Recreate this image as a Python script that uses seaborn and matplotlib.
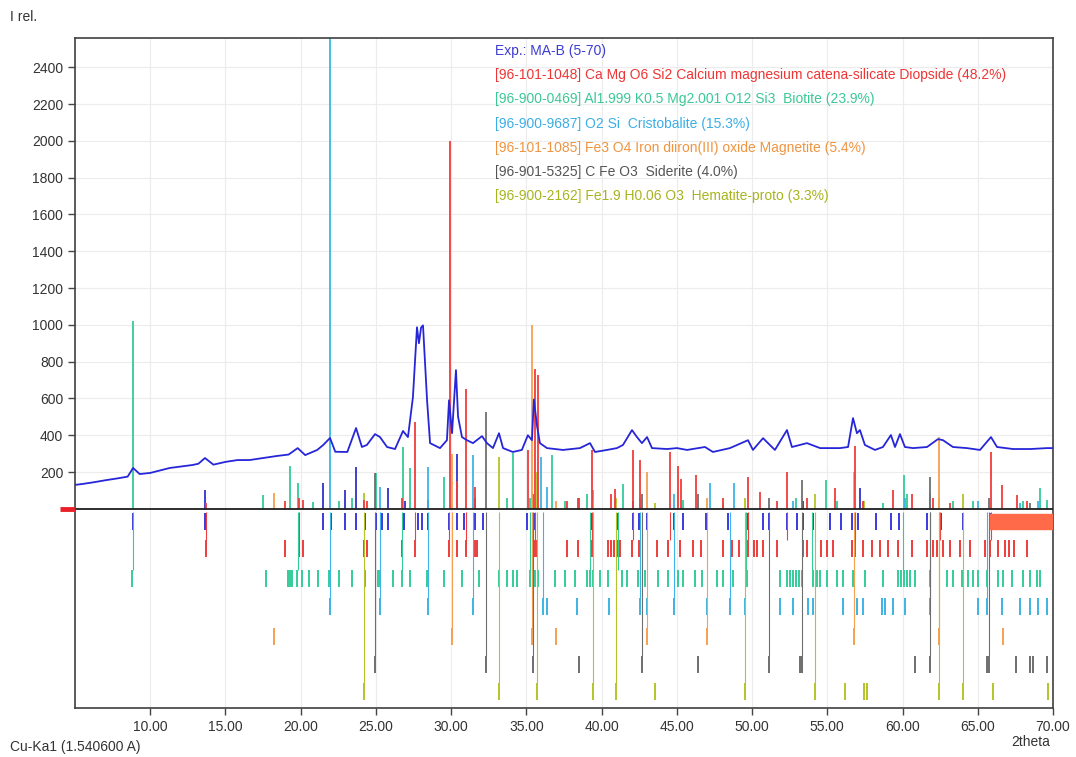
import matplotlib
matplotlib.use("Agg")
import matplotlib.pyplot as plt
from matplotlib.patches import Rectangle
import pandas as pd
import seaborn as sns

exp_points = [
    (5.0, 130), (5.5, 135), (6.3, 145), (7.0, 155), (7.8, 165), (8.5, 175), (8.86, 222), (9.3, 189),
    (10.0, 195), (11.3, 222), (12.8, 238), (13.2, 245), (13.64, 276), (14.2, 240), (15.0, 255),
    (15.8, 265), (16.6, 265), (17.5, 276), (18.4, 287), (19.2, 295), (19.8, 330), (20.3, 292),
    (21.1, 320), (21.5, 347), (21.95, 385), (22.3, 310), (23.1, 309), (23.68, 439), (24.07, 336),
    (24.4, 347), (24.94, 406), (25.27, 390), (25.74, 336), (26.27, 325), (26.8, 423), (27.13, 390),
    (27.46, 607), (27.73, 987), (27.86, 900), (28.0, 985), (28.13, 997), (28.4, 590), (28.6, 357),
    (29.26, 330), (29.72, 373), (29.86, 590), (30.06, 411), (30.32, 754), (30.46, 500), (30.72, 390),
    (31.05, 373), (31.45, 357), (32.05, 395), (32.38, 357), (32.78, 330), (33.18, 411), (33.45, 330),
    (34.1, 309), (34.7, 320), (35.1, 400), (35.37, 373), (35.5, 595), (35.7, 455), (35.9, 357),
    (36.37, 330), (37.43, 320), (38.56, 330), (39.23, 357), (39.56, 309), (40.36, 320), (41.02, 330),
    (41.42, 347), (42.02, 428), (42.35, 390), (42.68, 357), (43.02, 390), (43.35, 330), (44.35, 325),
    (45.01, 330), (45.68, 320), (46.87, 336), (47.4, 309), (48.53, 330), (49.73, 373), (50.06, 320),
    (50.73, 384), (51.06, 357), (51.52, 320), (52.32, 428), (52.65, 336), (53.65, 357), (54.52, 330),
    (55.85, 330), (56.38, 336), (56.71, 493), (56.97, 411), (57.17, 428), (57.5, 347), (58.17, 320),
    (58.7, 336), (59.23, 401), (59.5, 336), (59.83, 406), (60.16, 336), (60.7, 330), (61.63, 336),
    (62.36, 379), (62.69, 373), (63.35, 336), (64.28, 330), (65.15, 320), (65.88, 390), (66.28, 336),
    (67.34, 325), (68.5, 325), (69.6, 330), (70.0, 330),
]

# reference sticks above the baseline (2theta, height)
exp_sticks = [(13.64, 102), (21.5, 140), (22.97, 102), (23.68, 228), (25.8, 113), (26.9, 40),
              (28.48, 50), (30.36, 300), (31.6, 60), (42.1, 40), (53.4, 40), (57.2, 113)]
diopside_sticks = [(13.68, 30), (18.96, 40), (19.9, 60), (20.13, 50), (24.21, 50), (24.39, 40),
                   (26.71, 60), (27.6, 470), (29.9, 2000), (30.41, 150), (30.99, 650), (31.58, 120),
                   (35.13, 320), (35.57, 760), (35.75, 730), (37.68, 40), (38.45, 60), (39.34, 320),
                   (40.6, 80), (40.9, 110), (42.1, 320), (42.55, 265), (44.55, 310), (45.1, 230),
                   (45.3, 160), (46.3, 185), (48.05, 60), (49.73, 175), (50.5, 90), (51.63, 40),
                   (52.35, 200), (53.63, 60), (55.5, 115), (56.85, 340), (57.4, 40), (59.4, 100),
                   (60.61, 80), (62.05, 60), (63.15, 30), (65.9, 310), (66.6, 130), (67.6, 75),
                   (68.25, 40)]
biotite_sticks = [(8.85, 1020), (17.5, 75), (19.3, 230), (19.8, 140), (20.8, 37), (22.57, 40),
                  (23.39, 60), (25.0, 195), (26.78, 336), (27.27, 222), (29.5, 173), (33.69, 60),
                  (34.1, 303), (35.24, 60), (36.7, 293), (37.57, 40), (39.0, 80), (39.45, 100),
                  (41.4, 135), (45.43, 50), (48.09, 30), (52.9, 60), (54.9, 157), (55.62, 40),
                  (58.72, 30), (60.1, 184), (60.3, 80), (61.82, 40), (63.37, 40), (64.7, 40),
                  (68.03, 40), (69.15, 113), (69.6, 50)]
cristobalite_sticks = [(21.95, 2600), (25.3, 120), (28.44, 228), (31.43, 293), (35.95, 282),
                       (36.39, 120), (42.55, 60), (44.81, 80), (47.2, 140), (48.8, 140), (52.74, 40),
                       (60.16, 60), (61.82, 80), (65.04, 40), (67.81, 30), (69.02, 40)]
magnetite_sticks = [(18.23, 84), (30.03, 300), (35.35, 1000), (37.0, 40), (43.0, 200), (46.98, 60),
                    (56.77, 200), (62.44, 390)]
siderite_sticks = [(24.94, 195), (32.31, 526), (35.46, 80), (38.52, 60), (42.66, 80), (46.38, 80),
                   (51.15, 60), (53.3, 157), (61.82, 173), (65.77, 60), (68.5, 30)]
hematite_sticks = [(24.2, 86), (33.18, 282), (35.73, 200), (39.41, 40), (40.96, 60), (43.55, 30),
                   (49.53, 60), (54.18, 80), (57.44, 40), (62.44, 60), (64.0, 80)]

# peak marker rows under the baseline
exp_ticks = [8.88, 13.64, 19.89, 21.5, 21.99, 22.94, 23.65, 24.27, 25.0, 25.38, 25.82, 26.89, 27.82,
             28.04, 28.48, 29.88, 30.36, 30.85, 31.58, 32.14, 35.02, 35.5, 39.34, 41.07, 42.11,
             42.51, 43.0, 44.81, 45.43, 46.94, 48.42, 49.75, 50.75, 51.12, 52.3, 53.0, 53.41, 54.03,
             55.18, 55.91, 56.62, 57.06, 58.24, 59.21, 59.77, 61.65, 62.53, 64.0, 65.81]
diopside_ticks = [13.68, 18.96, 19.9, 20.13, 24.21, 24.39, 26.71, 27.6, 29.88, 30.41, 30.99, 31.58,
                  31.7, 35.57, 35.7, 37.68, 38.45, 39.34, 40.45, 40.6, 40.8, 41.0, 41.2, 42.0, 42.51,
                  43.7, 44.39, 45.21, 46.05, 46.58, 48.05, 48.64, 49.15, 49.75, 50.13, 50.3, 50.75,
                  51.63, 53.41, 53.63, 54.56, 54.96, 55.4, 56.62, 56.84, 57.4, 57.95, 58.5, 59.06,
                  59.72, 60.61, 61.6, 62.05, 62.27, 62.71, 63.15, 63.82, 64.48, 65.48, 65.81, 66.37,
                  66.81, 67.1, 67.41, 68.25]
biotite_ticks = [8.77, 17.7, 19.18, 19.3, 19.45, 19.73, 20.06, 20.57, 21.13, 21.9, 22.57, 23.39,
                 24.27, 25.16, 25.27, 26.16, 26.71, 27.26, 28.42, 29.55, 30.7, 31.87, 33.2, 33.69,
                 34.09, 34.35, 35.24, 35.57, 35.79, 36.9, 37.57, 38.23, 39.0, 39.2, 39.45, 39.9,
                 40.45, 41.33, 41.67, 42.44, 42.88, 43.77, 44.43, 45.1, 45.43, 46.21, 46.65, 47.65,
                 48.09, 48.71, 49.64, 51.86, 52.3, 52.5, 52.7, 52.9, 53.1, 53.3, 54.07, 54.3, 54.5,
                 54.96, 55.62, 56.06, 56.73, 57.5, 58.72, 59.72, 59.9, 60.1, 60.3, 60.5, 60.83, 61.82,
                 62.93, 63.37, 63.93, 64.37, 64.7, 65.04, 65.59, 66.37, 66.7, 67.25, 68.03, 68.47,
                 68.91, 69.13]
cristobalite_ticks = [21.95, 25.27, 28.44, 31.43, 36.08, 36.39, 38.39, 40.51, 42.55, 43.04, 44.81,
                      46.98, 48.53, 49.53, 51.86, 52.74, 53.74, 54.07, 56.06, 56.95, 57.4, 58.61,
                      58.83, 59.39, 60.16, 61.82, 65.04, 65.59, 66.59, 67.81, 68.47, 69.02, 69.58]
magnetite_ticks = [18.23, 30.03, 35.35, 37.0, 43.0, 46.98, 56.77, 62.44, 66.65]
siderite_ticks = [24.94, 32.31, 35.46, 38.52, 42.66, 46.38, 51.15, 53.19, 53.3, 60.83, 61.82,
                  65.59, 65.77, 67.54, 68.47, 68.65, 69.58]
hematite_ticks = [24.2, 33.2, 35.73, 39.41, 40.96, 43.55, 49.53, 54.18, 56.18, 57.44, 57.66,
                  62.44, 63.99, 66.03, 69.69]

# strong reflections joined from the baseline down to their row
diopside_links = [13.68, 19.9, 27.6, 29.88, 30.99, 35.57, 39.34, 42.1, 44.55, 49.75, 52.35, 56.85,
                  62.5, 65.9]
biotite_links = [8.85, 19.8, 26.71, 35.24, 39.2, 41.1, 49.6, 54.0, 60.0]
cristobalite_links = [21.95, 25.27, 28.44, 31.43, 36.08, 42.55, 44.81, 48.53, 61.82, 65.59]
magnetite_links = [30.03, 35.35, 43.0, 46.98, 56.77, 62.44]
siderite_links = [24.94, 32.31, 35.46, 42.66, 51.15, 53.3, 61.82, 65.77]
hematite_links = [24.2, 33.2, 35.73, 39.41, 40.96, 49.53, 54.18, 62.44, 64.0]

legend_lines = [
    "Exp.: MA-B (5-70)",
    "[96-101-1048] Ca Mg O6 Si2 Calcium magnesium catena-silicate Diopside (48.2%)",
    "[96-900-0469] Al1.999 K0.5 Mg2.001 O12 Si3  Biotite (23.9%)",
    "[96-900-9687] O2 Si  Cristobalite (15.3%)",
    "[96-101-1085] Fe3 O4 Iron diiron(III) oxide Magnetite (5.4%)",
    "[96-901-5325] C Fe O3  Siderite (4.0%)",
    "[96-900-2162] Fe1.9 H0.06 O3  Hematite-proto (3.3%)",
]
legend_colors = ["#3c3cd0", "#ee3535", "#3cc896", "#3aaee6", "#f09440", "#555555", "#a8b41e"]

c_exp = "#2626d8"
c_dio = "#f03c3c"
c_bio = "#33cc99"
c_cri = "#3cb4e6"
c_mag = "#f5a050"
c_sid = "#6e6e6e"
c_hem = "#b4c428"

sns.set_style("white")
plt.rcParams['font.family'] = ['Liberation Sans', 'DejaVu Sans']

fig = plt.figure(figsize=(10.76, 7.57), dpi=100)
ax = fig.add_axes([0.0697, 0.0647, 0.9089, 0.885])

ax.set_xlim(5, 70)
ax.set_ylim(-1083, 2559)
ax.set_xticks(range(10, 71, 5))
ax.set_xticklabels(["%.2f" % v for v in range(10, 71, 5)])
ax.set_yticks(range(200, 2401, 200))
ax.grid(True, color="#ececec", lw=0.8, zorder=0)

# sticks above zero
for sticks, col in [(exp_sticks, "#3030c8"), (biotite_sticks, c_bio), (cristobalite_sticks, c_cri),
                    (hematite_sticks, c_hem), (siderite_sticks, c_sid), (magnetite_sticks, c_mag),
                    (diopside_sticks, c_dio)]:
    ax.vlines([p for p, h in sticks], 0, [h for p, h in sticks], colors=col, lw=1.3, zorder=2)

# marker rows
rows = [(exp_ticks, "#3a3ae0", -69, None), (diopside_ticks, c_dio, -216, diopside_links),
        (biotite_ticks, c_bio, -381, biotite_links), (cristobalite_ticks, c_cri, -533, cristobalite_links),
        (magnetite_ticks, c_mag, -693, magnetite_links), (siderite_ticks, c_sid, -848, siderite_links),
        (hematite_ticks, c_hem, -992, hematite_links)]
for ticks, col, yc, links in rows:
    ax.vlines(ticks, yc - 46, yc + 46, colors=col, lw=1.4, zorder=2)
    if links:
        ax.vlines(links, -20, yc + 46, colors=col, lw=0.8, zorder=2)

ax.add_patch(Rectangle((65.8, -110), 4.2, 82, color="#ff6a48", zorder=3))

ax.axhline(0, color="#1e1e1e", lw=1.3, zorder=3)
ax.plot([4.0, 5.0], [0, 0], color="#e8202a", lw=3.5, clip_on=False, solid_capstyle="butt", zorder=5)

df = pd.DataFrame(exp_points, columns=["2theta", "I"])
sns.lineplot(data=df, x="2theta", y="I", color=c_exp, lw=1.3, ax=ax, zorder=4)
ax.set_xlabel("")
ax.set_ylabel("")

for sp in ax.spines.values():
    sp.set_color("#404040")
    sp.set_linewidth(1.2)
ax.tick_params(direction="out", length=5, width=1, color="#444444", labelsize=10,
               labelcolor="#333333", left=True, bottom=True)

for i, (txt, col) in enumerate(zip(legend_lines, legend_colors)):
    ax.text(0.429, 0.9806 - i * 0.0361, txt, transform=ax.transAxes, color=col, fontsize=10,
            va="center", ha="left")

fig.text(10 / 1076, 1 - 17 / 757, "I rel.", fontsize=10, color="#333333", va="center")
fig.text(10 / 1076, 1 - 747 / 757, "Cu-Ka1 (1.540600 A)", fontsize=10, color="#333333", va="center")
fig.text(1050 / 1076, 1 - 742 / 757, "2theta", fontsize=10, color="#333333", va="center", ha="right")

fig.savefig("out.png", dpi=100)
